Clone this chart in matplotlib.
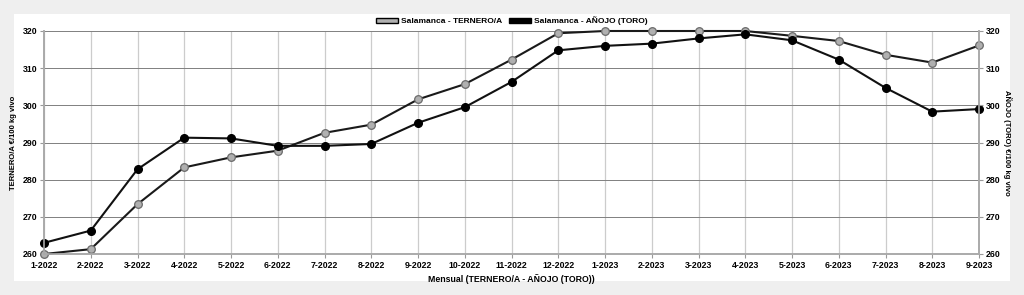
import matplotlib.pyplot as plt
from matplotlib.patches import Patch, Rectangle

months = ["1-2022", "2-2022", "3-2022", "4-2022", "5-2022", "6-2022", "7-2022",
          "8-2022", "9-2022", "10-2022", "11-2022", "12-2022", "1-2023", "2-2023",
          "3-2023", "4-2023", "5-2023", "6-2023", "7-2023", "8-2023", "9-2023"]
ternero = [260.0, 261.3, 273.4, 283.3, 286.0, 287.8, 292.6, 294.8, 301.6, 305.7,
           312.3, 319.4, 320.0, 320.0, 320.0, 320.0, 318.7, 317.3, 313.6, 311.5, 316.1]
anojo = [263.0, 266.3, 282.8, 291.3, 291.1, 289.1, 289.1, 289.6, 295.3, 299.5,
         306.3, 314.8, 316.0, 316.6, 318.0, 319.1, 317.5, 312.3, 304.7, 298.3, 299.0]
yticks = [260, 270, 280, 290, 300, 310, 320]

plt.rcParams["font.family"] = ["Liberation Sans", "DejaVu Sans"]
plt.rcParams["font.weight"] = "bold"

fig = plt.figure(figsize=(10.24, 2.95), dpi=100, facecolor="#efefef")
# white panel behind the chart
fig.patches.append(Rectangle((14 / 1024, 1 - 281 / 295), 996 / 1024, 267 / 295,
                             transform=fig.transFigure, facecolor="white",
                             edgecolor="none", zorder=-10))

ax = fig.add_axes([44 / 1024, 1 - 254 / 295, 935 / 1024, 223 / 295])
ax.set_facecolor("none")
x = list(range(len(months)))

ax.plot(x, ternero, color="#1a1a1a", linewidth=1.5, marker="o", markersize=5.5,
        markerfacecolor="#b0b0b0", markeredgecolor="#6a6a6a", markeredgewidth=0.9,
        zorder=3, clip_on=False)
ax.plot(x, anojo, color="#111111", linewidth=1.5, marker="o", markersize=5.5,
        markerfacecolor="black", markeredgecolor="black", zorder=3, clip_on=False)

ax.set_xlim(0, len(months) - 1)
ax.set_ylim(260, 320)
ax.set_xticks(x)
ax.set_xticklabels(months, fontsize=6.3, fontweight="bold")
ax.set_yticks(yticks)
ax.set_yticklabels([str(v) for v in yticks], fontsize=6.3, fontweight="bold")
ax.tick_params(length=3, color="#999999", pad=2)

ax.grid(axis="x", color="#cccccc", linewidth=0.9)
ax.grid(axis="y", color="#808080", linewidth=0.7)

ax.set_ylabel("TERNERO/A €/100 kg vivo", fontsize=5.5, fontweight="bold", labelpad=4)
ax.set_xlabel("Mensual (TERNERO/A - AÑOJO (TORO))", fontsize=6.3, fontweight="bold", labelpad=3)

ax2 = ax.twinx()
ax2.set_ylim(260, 320)
ax2.set_yticks(yticks)
ax2.set_yticklabels([str(v) for v in yticks], fontsize=6.3, fontweight="bold")
ax2.tick_params(length=3, color="#999999", pad=2)
ax2.set_ylabel("AÑOJO (TORO) €/100 kg vivo", fontsize=5.5, fontweight="bold",
               rotation=270, labelpad=8)

for a in (ax, ax2):
    a.spines["top"].set_visible(False)
    for side in ["left", "right", "bottom"]:
        a.spines[side].set_color("#aaaaaa")
        a.spines[side].set_linewidth(1.2)

handles = [Patch(facecolor="#b0b0b0", edgecolor="black", linewidth=1.0,
                 label="Salamanca - TERNERO/A"),
           Patch(facecolor="black", edgecolor="black", label="Salamanca - AÑOJO (TORO)")]
fig.legend(handles=handles, loc="center", bbox_to_anchor=(0.5, 1 - 21 / 295), ncol=2,
           frameon=False, fontsize=6, handlelength=2.6, handleheight=0.7,
           columnspacing=0.8, handletextpad=0.4)

fig.savefig("out.png", dpi=100, facecolor=fig.get_facecolor())
